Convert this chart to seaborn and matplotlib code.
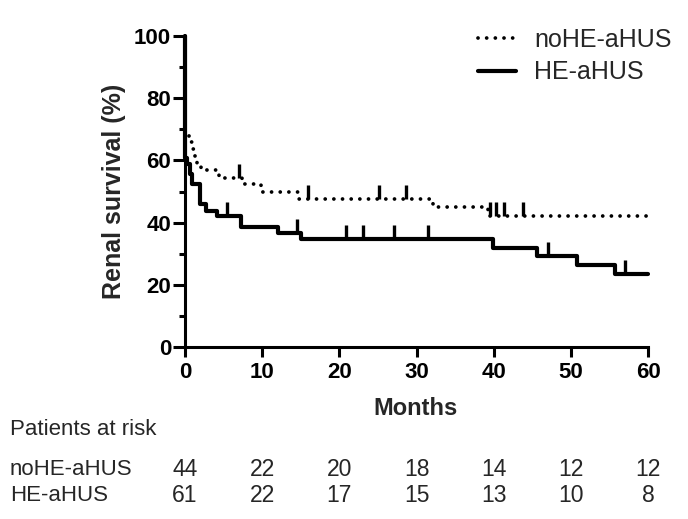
import numpy as np
import pandas as pd
import matplotlib.pyplot as plt
import seaborn as sns
from matplotlib.transforms import blended_transform_factory

# Kaplan-Meier steps (months, survival %)
months_noHE = [0, 0, 0.5, 0.9, 1.3, 1.6, 2.1, 4.4, 7.4, 9.8, 14.6, 32.1, 39.3, 60]
surv_noHE = [100, 68.2, 65.9, 63.6, 61.4, 59.1, 56.8, 54.5, 52.5, 49.8, 47.6, 45.0, 42.1, 42.1]
censored_noHE = [7.0, 16.0, 25.1, 28.6, 39.5, 40.3, 41.3, 43.8]

months_HE = [0, 0, 0.3, 0.6, 0.9, 2.0, 2.7, 4.1, 7.3, 12.0, 15.0, 39.9, 45.6, 50.8, 55.7, 60]
surv_HE = [100, 60.7, 59.0, 55.7, 52.5, 45.9, 43.6, 42.2, 38.5, 36.6, 34.7, 31.8, 29.3, 26.4, 23.5, 23.5]
censored_HE = [5.5, 14.5, 20.9, 23.1, 27.1, 31.5, 47.0, 57.0]

# Patients at risk table
risk_months = [0, 10, 20, 30, 40, 50, 60]
risk_noHE = [44, 22, 20, 18, 14, 12, 12]
risk_HE = [61, 22, 17, 15, 13, 10, 8]


def level_at(times, levels, t):
    idx = np.searchsorted(times, t, side='right') - 1
    return levels[idx]


sns.set_style('ticks')
plt.rcParams['font.family'] = ['Liberation Sans', 'DejaVu Sans']

fig = plt.figure(figsize=(6.88, 5.19), dpi=100)
ax = fig.add_axes([0.2689, 0.3314, 0.673, 0.5992])

df_no = pd.DataFrame({'Months': months_noHE, 'Survival': surv_noHE})
df_he = pd.DataFrame({'Months': months_HE, 'Survival': surv_HE})

sns.lineplot(data=df_no, x='Months', y='Survival', ax=ax, estimator=None, sort=False,
             drawstyle='steps-post', color='black', linewidth=2.7,
             linestyle=(0, (0.01, 2.3)), dash_capstyle='round',
             label='noHE-aHUS', clip_on=False)
sns.lineplot(data=df_he, x='Months', y='Survival', ax=ax, estimator=None, sort=False,
             drawstyle='steps-post', color='black', linewidth=3.0,
             label='HE-aHUS', clip_on=False)

# censor marks
lv_no = np.array([level_at(months_noHE, surv_noHE, t) for t in censored_noHE])
lv_he = np.array([level_at(months_HE, surv_HE, t) for t in censored_HE])
ax.vlines(censored_noHE, lv_no, lv_no + 4.5, color='black', linewidth=2.4)
ax.vlines(censored_HE, lv_he, lv_he + 4.5, color='black', linewidth=2.4)

ax.set_xlim(0, 60)
ax.set_ylim(0, 100)
ax.set_xticks(range(0, 61, 10))
ax.set_yticks(range(0, 101, 20))
ax.set_yticks(range(10, 100, 20), minor=True)
ax.tick_params(axis='both', which='major', width=2.2, labelsize=16,
               direction='out', color='black', labelcolor='black')
ax.tick_params(axis='x', which='major', length=7.5, pad=3)
ax.tick_params(axis='y', which='major', length=9, pad=1)
ax.tick_params(axis='y', which='minor', length=4.5, width=2.2, color='black')
for lbl in ax.get_xticklabels() + ax.get_yticklabels():
    lbl.set_fontweight('bold')
sns.despine(ax=ax)
for sp in ['left', 'bottom']:
    ax.spines[sp].set_linewidth(2.2)
    ax.spines[sp].set_color('black')

ax.set_ylabel('Renal survival (%)', fontsize=18, fontweight='bold')
ax.yaxis.set_label_coords(-0.127, 0.5)
ax.set_xlabel('Months', fontsize=17, fontweight='bold', va='center')
ax.xaxis.set_label_coords(0.497, -0.199)

ax.legend(loc='upper right', bbox_to_anchor=(0.976, 0.946), bbox_transform=fig.transFigure,
          frameon=False, fontsize=18, handlelength=1.5, handletextpad=0.72,
          labelspacing=0.33, borderpad=0, borderaxespad=0)

# numbers at risk
trans = blended_transform_factory(ax.transData, fig.transFigure)
fig.text(0.0145, 0.1715, 'Patients at risk', fontsize=16, ha='left', va='center')
fig.text(0.0145, 0.0963, 'noHE-aHUS', fontsize=16, ha='left', va='center')
fig.text(0.0145, 0.0462, 'HE-aHUS', fontsize=16, ha='left', va='center')
for m, a, b in zip(risk_months, risk_noHE, risk_HE):
    ax.text(m, 0.0963, str(a), transform=trans, fontsize=16.5, ha='center', va='center')
    ax.text(m, 0.0462, str(b), transform=trans, fontsize=16.5, ha='center', va='center')

fig.savefig('out.png', dpi=100)
